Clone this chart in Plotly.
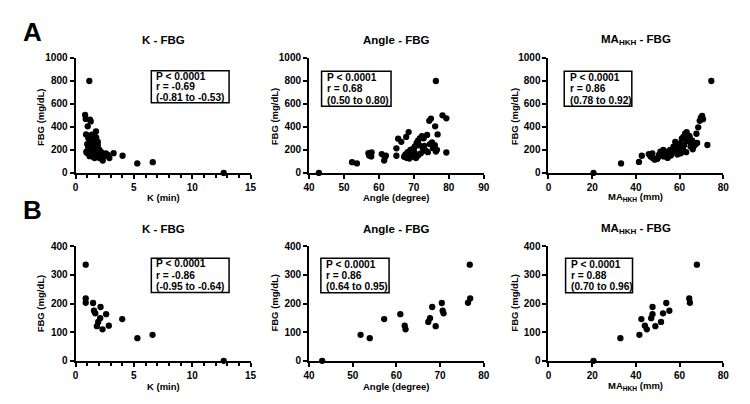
import plotly.graph_objects as go

# ---------------- DATA ----------------
# Panel A : K - FBG
ka_k = [1.18, 0.82, 0.87, 1.24, 1.30, 1.04, 0.90, 1.40, 1.75, 1.77, 1.21, 1.50, 1.07, 1.35, 1.63,
        1.91, 2.05, 0.93, 1.21, 1.49, 1.77, 1.63, 2.05, 2.33, 2.76, 2.90, 3.26, 4.03, 5.29, 6.62,
        12.7, 1.10, 1.30, 1.45, 1.60, 1.70, 1.85, 1.95, 2.20, 1.55, 1.40, 1.25, 1.00, 1.15, 1.65,
        1.80, 1.30, 1.50, 1.90, 2.10, 2.40, 2.60, 1.20, 0.95, 1.70, 1.45, 1.60, 1.90]
ka_fbg = [798, 503, 469, 463, 447, 404, 334, 331, 360, 306, 270, 255, 227, 213, 242,
          270, 199, 185, 171, 157, 149, 129, 129, 107, 157, 129, 171, 149, 82, 93,
          0, 300, 290, 280, 300, 280, 230, 200, 180, 210, 190, 230, 250, 200, 170,
          180, 160, 140, 150, 160, 140, 170, 145, 175, 220, 240, 325, 240]

# Panel A : Angle - FBG
aa_angle = [42.8, 52.3, 53.7, 57.0, 57.9, 57.8, 57.2, 60.8, 61.7, 61.5, 62.0, 65.0, 65.0, 65.5,
            66.4, 67.8, 68.5, 68.7, 70.6, 67.2, 67.6, 68.2, 69.0, 69.5, 70.0, 70.3, 70.8, 71.2,
            71.7, 72.3, 72.6, 73.0, 73.5, 74.0, 72.0, 71.2, 69.3, 70.5, 74.4, 74.9, 76.1, 76.8,
            76.3, 78.2, 79.3, 79.3, 76.0, 76.3, 76.6, 75.2, 74.6, 73.8, 71.5, 69.8, 68.0, 72.8, 75.5]
aa_fbg = [0, 93, 82, 171, 179, 143, 150, 163, 135, 107, 150, 213, 149, 297,
          270, 312, 354, 124, 129, 140, 160, 180, 200, 170, 190, 230, 260, 280,
          300, 320, 215, 235, 190, 180, 170, 150, 140, 165, 452, 472, 404, 334,
          798, 500, 474, 177, 240, 185, 200, 265, 250, 330, 240, 210, 130, 300, 215]

# Panel A : MA_HKH - FBG
maa_ma = [20.6, 33.2, 41.4, 42.7, 45.9, 46.7, 47.7, 48.6, 49.7, 50.5, 51.2, 52.0, 52.7, 53.5,
          54.2, 55.0, 55.7, 56.5, 57.2, 58.0, 58.7, 59.5, 60.2, 61.0, 61.7, 62.5, 63.2, 64.0,
          64.7, 65.5, 66.2, 67.0, 67.7, 68.5, 69.2, 69.7, 70.3, 70.7, 72.7, 74.5, 50.0, 53.0,
          56.0, 57.0, 58.5, 60.0, 61.5, 62.0, 62.8, 63.5, 64.5, 65.0, 66.0, 60.5, 59.0, 54.5,
          52.5, 47.5, 63.0, 65.8, 68.0]
maa_fbg = [0, 82, 95, 149, 163, 143, 129, 115, 121, 157, 185, 171, 143, 157,
           185, 157, 199, 185, 227, 270, 242, 213, 255, 298, 312, 340, 354, 326,
           298, 255, 227, 242, 340, 396, 452, 480, 494, 466, 242, 798, 130, 175,
           150, 195, 175, 185, 210, 240, 290, 275, 320, 230, 205, 170, 160, 130,
           200, 170, 180, 280, 260]

# Panel B (same patients across the three panels)
fbg_b = [0, 79, 91, 110, 121, 123, 136, 146, 149, 163, 166, 175, 188, 202, 203, 218, 336]
kb_k = [12.7, 5.3, 6.6, 2.31, 1.83, 2.85, 1.94, 4.0, 2.11, 2.62, 1.69, 1.58, 2.14, 1.5, 0.87, 0.87, 0.87]
ab_angle = [43.0, 53.9, 51.8, 62.1, 69.0, 61.9, 67.3, 57.2, 67.7, 60.9, 70.8, 70.6, 68.2, 70.4, 76.4, 76.9, 76.8]
mab_ma = [20.6, 32.9, 41.6, 45.0, 48.9, 44.1, 51.5, 42.5, 47.0, 47.6, 52.4, 55.3, 47.6, 53.9, 64.7, 64.4, 67.9]

# Tick labels
k_ticks = [0, 5, 10, 15]
angle_ticks_a = [40, 50, 60, 70, 80, 90]
angle_ticks_b = [40, 50, 60, 70, 80]
ma_ticks = [0, 20, 40, 60, 80]
fbg_ticks_a = [0, 200, 400, 600, 800, 1000]
fbg_ticks_b = [0, 100, 200, 300, 400]

panel_titles = ["K - FBG", "Angle - FBG", "MA<sub>HKH</sub> - FBG"]
x_titles = ["K (min)", "Angle (degree)", "MA<sub>HKH</sub> (mm)"]
y_title = "FBG (mg/dL)"
stats_a = [["P &lt; 0.0001", "r = -0.69", "(-0.81 to -0.53)"],
           ["P &lt; 0.0001", "r = 0.68", "(0.50 to 0.80)"],
           ["P &lt; 0.0001", "r = 0.86", "(0.78 to 0.92)"]]
stats_b = [["P &lt; 0.0001", "r = -0.86", "(-0.95 to -0.64)"],
           ["P &lt; 0.0001", "r = 0.86", "(0.64 to 0.95)"],
           ["P &lt; 0.0001", "r = 0.88", "(0.70 to 0.96)"]]

# ---------------- LAYOUT ----------------
W, H = 750, 404
FONT = "'Liberation Sans', Arial, sans-serif"


def px(x):
    return x / W


def py(y):
    return 1 - y / H


def b(t):
    return f"<b>{t}</b>"


fig = go.Figure()

series = [
    (ka_k, ka_fbg), (aa_angle, aa_fbg), (maa_ma, maa_fbg),
    (kb_k, fbg_b), (ab_angle, fbg_b), (mab_ma, fbg_b),
]
x_ticks = [k_ticks, angle_ticks_a, ma_ticks, k_ticks, angle_ticks_b, ma_ticks]
y_ticks = [fbg_ticks_a, fbg_ticks_b]
x_dom_px = [(70.7, 248.5), (308.0, 485.5), (551.3, 729.0)]
y_dom_px = [(53.3, 172.0), (247.7, 365.7)]

layout = dict(
    width=W, height=H, autosize=False,
    margin=dict(l=0, r=0, t=0, b=0, pad=0),
    paper_bgcolor="white", plot_bgcolor="white",
    showlegend=False,
    font=dict(family=FONT, color="black"),
)

for i, (xs, ys) in enumerate(series):
    row, col = divmod(i, 3)
    n = i + 1
    xa = "xaxis" if n == 1 else f"xaxis{n}"
    ya = "yaxis" if n == 1 else f"yaxis{n}"
    xr = "x" if n == 1 else f"x{n}"
    yr = "y" if n == 1 else f"y{n}"
    fig.add_trace(go.Scatter(
        x=xs, y=ys, mode="markers", xaxis=xr, yaxis=yr,
        marker=dict(color="black", size=6.3, line=dict(width=0)),
        cliponaxis=False, hoverinfo="skip"))
    xd = x_dom_px[col]
    yd = y_dom_px[row]
    axis_common = dict(
        showline=True, linewidth=2, linecolor="black", showgrid=False, zeroline=False,
        ticks="outside", ticklen=4, tickwidth=2, tickcolor="black",
        tickfont=dict(family=FONT, size=10, color="black"),
        fixedrange=True,
    )
    xt = x_ticks[i]
    yt = y_ticks[row]
    xdict = dict(axis_common, domain=[px(xd[0]), px(xd[1])], range=[xt[0], xt[-1]],
                 tickmode="array", tickvals=xt, ticktext=[b(v) for v in xt], anchor=yr)
    if col == 0:
        xdict["minor"] = dict(dtick=1, tick0=0, ticks="outside", ticklen=3, tickwidth=1.5,
                              tickcolor="black", showgrid=False)
    ydict = dict(axis_common, domain=[py(yd[1]), py(yd[0])], range=[yt[0], yt[-1]],
                 tickmode="array", tickvals=yt, ticktext=[b(v) for v in yt], anchor=xr)
    layout[xa] = xdict
    layout[ya] = ydict

annotations = []
shapes = []

# panel letters
annotations.append(dict(x=px(15), y=py(27), xref="paper", yref="paper", text=b("A"),
                        showarrow=False, xanchor="left", yanchor="middle",
                        font=dict(family=FONT, size=26)))
annotations.append(dict(x=px(15), y=py(210), xref="paper", yref="paper", text=b("B"),
                        showarrow=False, xanchor="left", yanchor="middle",
                        font=dict(family=FONT, size=26)))

title_y = [35, 230]
xt_y = [197, 392]
yt_x = [35, 273, 517]
yt_y = [114, 306]
for row in range(2):
    for col in range(3):
        xc = (x_dom_px[col][0] + x_dom_px[col][1]) / 2
        annotations.append(dict(x=px(xc), y=py(title_y[row]), xref="paper", yref="paper",
                                text=b(panel_titles[col]), showarrow=False,
                                xanchor="center", yanchor="middle",
                                font=dict(family=FONT, size=11.5)))
        annotations.append(dict(x=px(xc), y=py(xt_y[row]), xref="paper", yref="paper",
                                text=b(x_titles[col]), showarrow=False,
                                xanchor="center", yanchor="middle",
                                font=dict(family=FONT, size=9.5)))
        annotations.append(dict(x=px(yt_x[col]), y=py(yt_y[row]), xref="paper", yref="paper",
                                text=b(y_title), showarrow=False, textangle=-90,
                                xanchor="center", yanchor="middle",
                                font=dict(family=FONT, size=9.5)))

# stats boxes: (left, top, right, bottom, text-left)
boxes_a = [(147.7, 66.7, 226.7, 99.8, 150.5), (320.7, 67.3, 391.3, 103.3, 323.8),
           (567.3, 67.3, 636.0, 103.3, 570.8)]
boxes_b = [(147.7, 260.0, 226.7, 295.3, 150.7), (320.0, 260.0, 389.3, 295.5, 323.2),
           (568.7, 260.0, 636.7, 295.5, 572.0)]
for boxes, stats in ((boxes_a, stats_a), (boxes_b, stats_b)):
    for (l, t, r, bt, tx), lines in zip(boxes, stats):
        shapes.append(dict(type="rect", xref="paper", yref="paper",
                           x0=px(l), x1=px(r), y0=py(bt), y1=py(t),
                           line=dict(color="black", width=1.5), fillcolor="white", layer="below"))
        h = (bt - t)
        for k, txt in enumerate(lines):
            yc = t + h * (k + 0.5) / 3
            annotations.append(dict(x=px(tx), y=py(yc), xref="paper", yref="paper",
                                    text=b(txt), showarrow=False, xanchor="left", yanchor="middle",
                                    font=dict(family=FONT, size=10.2)))

layout["annotations"] = annotations
layout["shapes"] = shapes
fig.update_layout(**layout)
fig.write_html("out.html", config={"displayModeBar": False},
               post_script="document.body.style.margin='0';document.body.style.overflow='hidden';")
